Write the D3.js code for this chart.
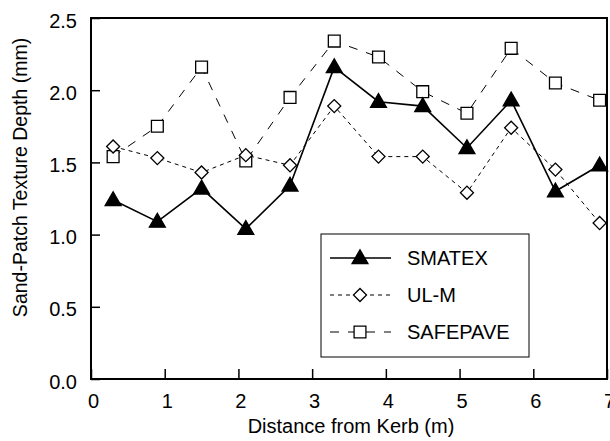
<!DOCTYPE html>
<html lang="en">
<head>
  <meta charset="UTF-8">
  <title>Sand-Patch Texture Depth</title>
  <script src="https://d3js.org/d3.v7.min.js"></script>
  <style>
    body { margin: 0; background: white; }
    svg { display: block; font-family: 'Liberation Sans', Arial, sans-serif; }
    .tick text { font-size: 20px; fill: black; }
  </style>
</head>
<body>
  <svg id="chart" width="610" height="441"></svg>

  <script>
    // distance from kerb (m)
    const distance = [0.3, 0.9, 1.5, 2.1, 2.7, 3.3, 3.9, 4.5, 5.1, 5.7, 6.3, 6.9];
    const smatex   = [1.24, 1.09, 1.32, 1.04, 1.34, 2.16, 1.92, 1.89, 1.60, 1.93, 1.30, 1.48];
    const ulm      = [1.61, 1.53, 1.43, 1.55, 1.48, 1.89, 1.54, 1.54, 1.29, 1.74, 1.45, 1.08];
    const safepave = [1.54, 1.75, 2.16, 1.51, 1.95, 2.34, 2.23, 1.99, 1.84, 2.29, 2.05, 1.93];
    const xTicks = [0, 1, 2, 3, 4, 5, 6, 7];
    const yTicks = [0, 0.5, 1.0, 1.5, 2.0, 2.5];

    const series = [
      { name: "SMATEX", values: smatex, dash: null, width: 1.6, symbol: "triangle" },
      { name: "UL-M", values: ulm, dash: "4,4", width: 1, symbol: "diamond" },
      { name: "SAFEPAVE", values: safepave, dash: "9,9", width: 1, symbol: "square" }
    ];

    const svg = d3.select("#chart");
    const margin = { top: 18, right: 3, bottom: 62, left: 91 };
    const width = 610 - margin.left - margin.right;
    const height = 441 - margin.top - margin.bottom;
    const g = svg.append("g").attr("transform", `translate(${margin.left},${margin.top})`);

    const x = d3.scaleLinear().domain([0, 7]).range([0, width]);
    const y = d3.scaleLinear().domain([0, 2.5]).range([height, 0]);

    const xAxis = g.append("g")
      .attr("transform", `translate(0,${height})`)
      .call(d3.axisBottom(x).tickValues(xTicks).tickFormat(d3.format("d")).tickSize(-10).tickPadding(15));
    xAxis.select(".domain").remove();
    xAxis.selectAll(".tick line").attr("stroke", "black").attr("stroke-width", 1.5);
    xAxis.selectAll(".tick text").attr("dx", "0.1em");

    const yAxis = g.append("g")
      .call(d3.axisLeft(y).tickValues(yTicks).tickFormat(d3.format(".1f")).tickSize(-9).tickPadding(14));
    yAxis.select(".domain").remove();
    yAxis.selectAll(".tick line").attr("stroke", "black").attr("stroke-width", 1.5);
    yAxis.selectAll(".tick text").attr("dy", "0.45em");

    // frame
    g.append("rect")
      .attr("width", width).attr("height", height)
      .attr("fill", "none").attr("stroke", "black").attr("stroke-width", 2);

    // axis titles
    svg.append("text")
      .attr("x", margin.left + x(3.5) + 2).attr("y", 433)
      .attr("text-anchor", "middle").attr("font-size", 20)
      .text("Distance from Kerb (m)");
    svg.append("text")
      .attr("transform", `translate(27,${(40 + 315) / 2}) rotate(-90)`)
      .attr("text-anchor", "middle").attr("font-size", 19.5)
      .text("Sand-Patch Texture Depth (mm)");

    const symbols = {
      triangle: { type: d3.symbolTriangle, size: 110, fill: "black" },
      diamond: { type: d3.symbolSquare, size: 85, fill: "white", rotate: 45 },
      square: { type: d3.symbolSquare, size: 140, fill: "white" }
    };

    function drawMarker(sel, s, cx, cy) {
      const m = symbols[s.symbol];
      sel.append("path")
        .attr("d", d3.symbol().type(m.type).size(m.size)())
        .attr("transform", `translate(${cx},${cy})` + (m.rotate ? ` rotate(${m.rotate})` : "") + (s.symbol === "triangle" ? " translate(0,1)" : ""))
        .attr("fill", m.fill)
        .attr("stroke", "black")
        .attr("stroke-width", 1.3);
    }

    const line = d3.line().x((d, i) => x(distance[i])).y(d => y(d));

    series.forEach(s => {
      g.append("path")
        .datum(s.values)
        .attr("fill", "none")
        .attr("stroke", "black")
        .attr("stroke-width", s.width)
        .attr("stroke-dasharray", s.dash)
        .attr("d", line);
    });

    [series[2], series[1], series[0]].forEach(s => {
      const mg = g.append("g");
      s.values.forEach((v, i) => drawMarker(mg, s, x(distance[i]), y(v)));
    });

    // legend
    const lg = svg.append("g");
    lg.append("rect")
      .attr("x", 321).attr("y", 234).attr("width", 208).attr("height", 123)
      .attr("fill", "white").attr("stroke", "black").attr("stroke-width", 1);
    series.forEach((s, i) => {
      const ly = 258 + i * 37;
      lg.append("line")
        .attr("x1", 330).attr("x2", 391).attr("y1", ly).attr("y2", ly)
        .attr("stroke", "black").attr("stroke-width", s.width)
        .attr("stroke-dasharray", s.dash);
      drawMarker(lg, s, 360, ly);
      lg.append("text")
        .attr("x", 407).attr("y", ly + 7)
        .attr("font-size", 20)
        .text(s.name);
    });
  </script>
</body>
</html>
